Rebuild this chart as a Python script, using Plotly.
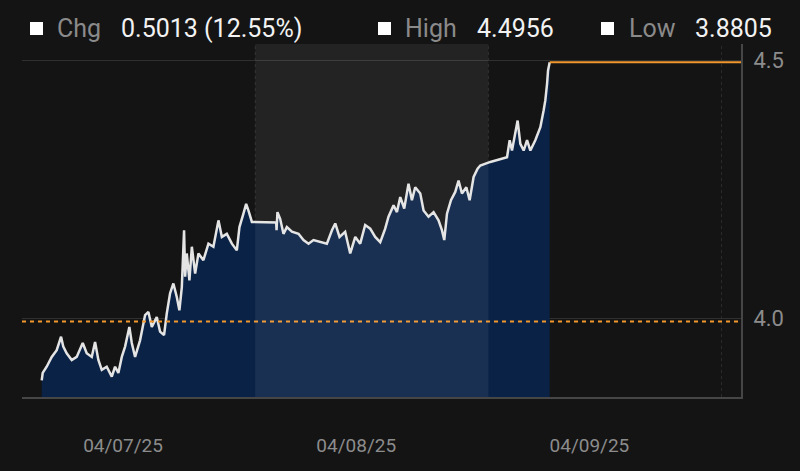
import plotly.graph_objects as go

# hours since 04/07/25 00:00
hours = [2.03, 2.13, 2.54, 3.06, 3.57, 4.02, 4.25, 4.60, 5.12, 5.63, 6.25, 6.66, 7.18, 7.52, 7.86,
         8.21, 8.72, 9.24, 9.58, 9.92, 10.27, 10.61, 11.05, 11.30, 11.64, 12.15, 12.67, 13.01, 13.36,
         13.87, 14.21, 14.62, 14.90, 15.24, 15.58, 15.93, 16.20, 16.45, 16.68, 16.79, 16.96, 17.23,
         17.48, 17.82, 18.16, 18.67, 19.19, 19.70, 20.22, 20.57, 21.08, 21.60, 22.11, 22.38, 22.79,
         23.07, 23.31, 23.66, 26.16, 26.20, 26.29, 26.57, 26.91, 27.26, 27.78, 28.46, 28.97, 29.49,
         30.00, 30.69, 31.38, 31.90, 32.24, 32.68, 33.26, 33.78, 34.30, 34.81, 35.32, 35.84, 36.35,
         36.87, 37.38, 37.72, 38.24, 38.59, 38.93, 39.34, 39.78, 40.13, 40.47, 40.99, 41.33, 41.84,
         42.36, 42.87, 43.22, 43.46, 43.74, 44.15, 44.59, 44.93, 45.28, 45.73, 46.07, 46.48, 46.89,
         47.17, 48.20, 49.92, 50.19, 50.43, 50.77, 51.01, 51.29, 51.63, 51.98, 52.32, 52.83, 53.35,
         53.69, 53.86, 54.04, 54.14, 54.31]
yields = [3.8805, 3.895, 3.907, 3.926, 3.939, 3.965, 3.946, 3.933, 3.920, 3.926, 3.953, 3.933, 3.926,
          3.955, 3.920, 3.901, 3.907, 3.888, 3.907, 3.895, 3.926, 3.946, 3.984, 3.953, 3.926, 3.958,
          4.007, 4.013, 3.984, 4.003, 3.975, 3.968, 4.010, 4.049, 4.068, 4.042, 4.016, 4.061, 4.171,
          4.081, 4.126, 4.074, 4.139, 4.087, 4.126, 4.113, 4.145, 4.139, 4.190, 4.158, 4.164, 4.145,
          4.132, 4.177, 4.203, 4.222, 4.209, 4.187, 4.186, 4.171, 4.206, 4.193, 4.164, 4.177, 4.168,
          4.164, 4.152, 4.145, 4.152, 4.148, 4.145, 4.171, 4.184, 4.158, 4.168, 4.126, 4.158, 4.145,
          4.181, 4.174, 4.158, 4.148, 4.174, 4.197, 4.219, 4.206, 4.235, 4.213, 4.261, 4.229, 4.254,
          4.242, 4.209, 4.197, 4.206, 4.190, 4.171, 4.152, 4.203, 4.229, 4.245, 4.267, 4.242, 4.254,
          4.229, 4.274, 4.290, 4.296, 4.303, 4.312, 4.345, 4.325, 4.358, 4.383, 4.338, 4.325, 4.345,
          4.325, 4.345, 4.370, 4.403, 4.422, 4.454, 4.480, 4.4956]

prev_close = 3.9943
high_val = 4.4956
x_end = 74
session_start, session_end = 24, 48
day_bounds = [24, 48, 72]
tick_vals = [10.4, 34.4, 58.4]
tick_text = ["04/07/25", "04/08/25", "04/09/25"]
y_ticks = [4.0, 4.5]
y_tick_text = ["4.0", "4.5"]
header_labels = ["Chg", "High", "Low"]
header_values = ["0.5013 (12.55%)", "4.4956", "3.8805"]

BG = "#141414"
FONT = "Roboto, sans-serif"

fig = go.Figure()

fig.add_trace(go.Scatter(x=hours, y=yields, mode="lines", fill="tozeroy",
                         fillcolor="#0a2246", line=dict(color="#e4e4e4", width=2.5),
                         hoverinfo="skip", showlegend=False))
fig.add_trace(go.Scatter(x=[hours[-1], x_end], y=[high_val, high_val], mode="lines",
                         line=dict(color="#f0972e", width=2), showlegend=False, hoverinfo="skip"))
fig.add_trace(go.Scatter(x=[0, x_end], y=[prev_close, prev_close], mode="lines",
                         line=dict(color="#f0972e", width=2, dash="4px,4px"),
                         showlegend=False, hoverinfo="skip"))

shapes = []
for b in day_bounds:
    shapes.append(dict(type="line", xref="x", yref="paper", x0=b, x1=b, y0=0, y1=1,
                       line=dict(color="#2c2c2c", width=1, dash="dot"), layer="below"))
shapes.append(dict(type="rect", xref="x", yref="paper", x0=session_start, x1=session_end,
                   y0=0, y1=1, fillcolor="rgba(255,255,255,0.065)", line=dict(width=0),
                   layer="above"))

sq_x = [0.0111, 0.4951, 0.8053]
lbl_x = [0.0459, 0.5299, 0.8414]
val_x = [0.1349, 0.6300, 0.9332]
annotations = []
for i in range(3):
    shapes.append(dict(type="rect", xref="paper", yref="paper", x0=sq_x[i], x1=sq_x[i] + 0.0181,
                       y0=1.0255, y1=1.0623, fillcolor="#ffffff", line=dict(width=0)))
    annotations.append(dict(xref="paper", yref="paper", x=lbl_x[i], y=1.0439, text=header_labels[i],
                            showarrow=False, xanchor="left", yanchor="middle",
                            font=dict(family=FONT, size=25, color="#8a8a8a")))
    annotations.append(dict(xref="paper", yref="paper", x=val_x[i], y=1.0439, text=header_values[i],
                            showarrow=False, xanchor="left", yanchor="middle",
                            font=dict(family=FONT, size=25, color="#f2f2f2")))

fig.update_layout(
    width=800, height=471,
    paper_bgcolor=BG, plot_bgcolor=BG,
    margin=dict(l=22, r=59, t=44, b=74),
    shapes=shapes, annotations=annotations,
    xaxis=dict(range=[0, x_end], showgrid=False, zeroline=False, tickmode="array",
               tickvals=tick_vals, ticktext=tick_text, ticks="outside", ticklen=30,
               tickcolor="rgba(0,0,0,0)", showline=True, linecolor="#464646", linewidth=2,
               tickfont=dict(family=FONT, size=19, color="#8c8c8c")),
    yaxis=dict(range=[3.8485, 4.531], side="right", tickmode="array", tickvals=y_ticks,
               ticktext=y_tick_text, showgrid=True, gridcolor="#303030", gridwidth=1,
               zeroline=False, ticks="outside", ticklen=6, tickcolor="rgba(0,0,0,0)",
               showline=True, linecolor="#464646", linewidth=2,
               tickfont=dict(family=FONT, size=22, color="#8c8c8c")),
)

fig.write_html("out.html", config={"displayModeBar": False},
               post_script="document.body.style.margin='0';")
